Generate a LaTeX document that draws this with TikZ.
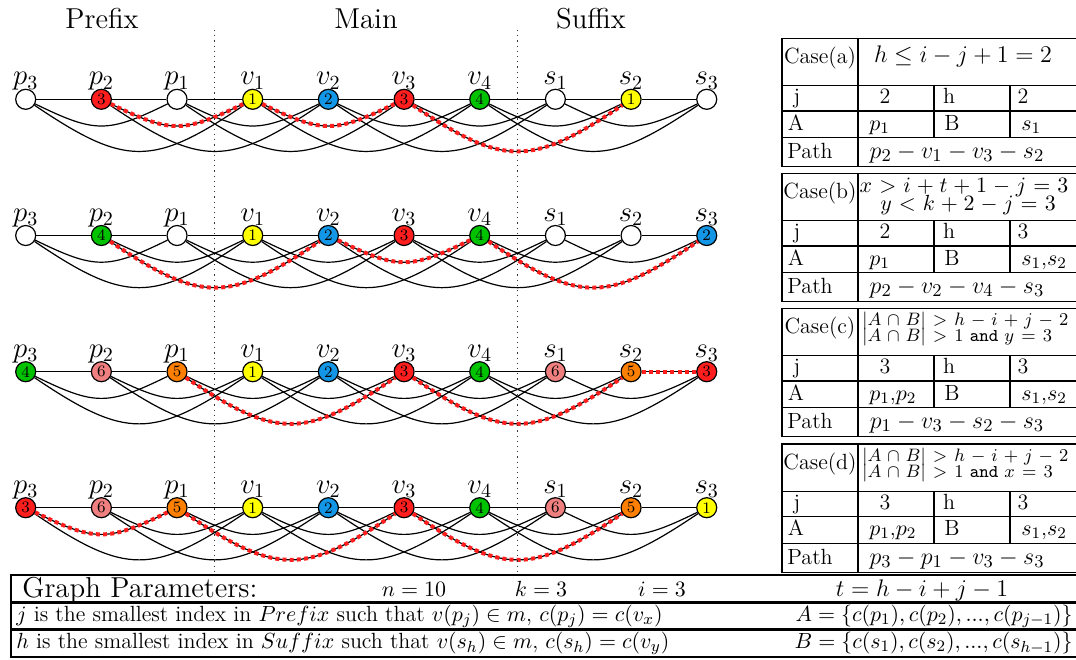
\documentclass[tikz,border=0pt]{standalone}
\usepackage{amsmath,amssymb}
\usetikzlibrary{backgrounds,calc}

\definecolor{vred}{RGB}{255,30,30}
\definecolor{vyel}{RGB}{255,255,0}
\definecolor{vblu}{RGB}{20,150,230}
\definecolor{vgrn}{RGB}{0,195,0}
\definecolor{vpnk}{RGB}{240,128,128}
\definecolor{vorg}{RGB}{255,128,0}

\newcommand\widemath{\medmuskip=5.8mu plus 2mu\thickmuskip=7mu plus 2mu}
\newcommand\midmath{\medmuskip=4.8mu plus 2mu\thickmuskip=5.8mu plus 2mu}

\tikzset{
  vtx/.style={circle, draw=black, line width=0.6pt, minimum size=10pt, inner sep=0pt, font=\footnotesize},
  vlab/.style={anchor=base, inner sep=0pt, font=\Large},
  title/.style={anchor=base, inner sep=0pt, font=\Large},
  edge/.style={draw=black, line width=0.6pt},
  hop2/.style={bend right=26, looseness=1.3},
  hop3/.style={bend right=34, looseness=1.35},
  walk/.style={draw=vred, line width=2pt, dash pattern=on 2pt off 1.6pt},
  sep/.style={dotted, line width=0.6pt, black!80},
  grid/.style={line width=0.6pt},
  tcell/.style={anchor=base, inner sep=0pt, font=\fontsize{11}{13}\selectfont},
  tcellw/.style={anchor=base west, inner sep=0pt, font=\fontsize{11}{13}\selectfont},
  tpath/.style={anchor=base, inner sep=0pt, font=\fontsize{12.5}{14}\selectfont},
  tcond/.style={anchor=base, inner sep=0pt, font=\fontsize{10.8}{13}\selectfont\midmath},
  tconda/.style={anchor=base, inner sep=0pt, font=\fontsize{11.9}{13}\selectfont},
  tcondw/.style={anchor=base west, inner sep=0pt, font=\fontsize{9}{11}\selectfont\widemath},
  btxt/.style={inner sep=0pt, font=\fontsize{11}{13}\selectfont},
}

% one row of the graph: nodes, their labels and the edges (i,i+1), (i,i+2), (i,i+3)
\newcommand\graphrow[3]{%
  \foreach \fc/\nm [count=\k from 0] in {#3} {
    \node[vtx, fill=\fc] (#1-\k) at ({25.7+75.67*\k}, #2) {\nm};
  }
  \foreach \tx [count=\k from 0] in {p_3,p_2,p_1,v_1,v_2,v_3,v_4,s_1,s_2,s_3} {
    \node[vlab] (#1-\k-lab) at ({25.7+75.67*\k}, {#2-14.5}) {$\tx$};
  }
  \begin{pgfonlayer}{background}
    \foreach \k in {0,...,8} {
      \pgfmathtruncatemacro\m{\k+1}
      \draw[edge] (#1-\k) -- (#1-\m);
    }
    \foreach \k in {0,...,7} {
      \pgfmathtruncatemacro\m{\k+2}
      \draw[edge] (#1-\k) to[hop2] (#1-\m);
    }
    \foreach \k in {0,...,6} {
      \pgfmathtruncatemacro\m{\k+3}
      \draw[edge] (#1-\k) to[hop3] (#1-\m);
    }
  \end{pgfonlayer}
}

% case table: #1 top, #2 name, #3 letter, #4 j, #5 h, #6 A, #7 B, #8 path
\newcommand\casetable[8]{%
  \draw[grid] (1077,#1) -- (782,#1) -- (782,{#1+128.4}) -- (1077,{#1+128.4});
  \draw[grid] (782,{#1+47.4}) -- (1077,{#1+47.4});
  \draw[grid] (782,{#1+72.7}) -- (1077,{#1+72.7});
  \draw[grid] (782,{#1+99.5}) -- (1077,{#1+99.5});
  \draw[grid] (858,#1) -- (858,{#1+128.4});
  \draw[grid] (934,{#1+47.4}) -- (934,{#1+99.5});
  \draw[grid] (1010,{#1+47.4}) -- (1010,{#1+99.5});
  \node[tcell] (#2-case) at (820,{#1+25}) {Case(#3)};
  \node[tcell] (#2-jk) at (797,{#1+65}) {j};
  \node[tcell] (#2-jv) at (885,{#1+65}) {#4};
  \node[tcell] (#2-hk) at (949,{#1+65}) {h};
  \node[tcell] (#2-hv) at (1023,{#1+65}) {#5};
  \node[tcell] (#2-ak) at (796,{#1+91.7}) {A};
  \node[tcellw] (#2-av) at (869,{#1+91.7}) {#6};
  \node[tcell] (#2-bk) at (952,{#1+91.7}) {B};
  \node[tcellw] (#2-bv) at (1021,{#1+91.7}) {#7};
  \node[tcell] (#2-pk) at (810,{#1+120}) {Path};
  \node[tpath] (#2-pv) at (957,{#1+120}) {#8};
}

\begin{document}
\begin{tikzpicture}[x=0.5pt, y=-0.5pt]
\useasboundingbox (0,0) rectangle (1076,659);

% section headings and the dotted separators
\node[title] (hdr-pre) at (102,28) {Prefix};
\node[title] (hdr-main) at (366,28) {Main};
\node[title] (hdr-suf) at (591,28) {Suffix};
\draw[sep] (214.8,30) -- (214.8,575);
\draw[sep] (517.5,30) -- (517.5,575);

% the four coloured graphs
\graphrow{r1}{99.3}{white/{},vred/3,white/{},vyel/1,vblu/2,vred/3,vgrn/4,white/{},vyel/1,white/{}}
\graphrow{r2}{235.5}{white/{},vgrn/4,white/{},vyel/1,vblu/2,vred/3,vgrn/4,white/{},white/{},vblu/2}
\graphrow{r3}{371.7}{vgrn/4,vpnk/6,vorg/5,vyel/1,vblu/2,vred/3,vgrn/4,vpnk/6,vorg/5,vred/3}
\graphrow{r4}{507.7}{vred/3,vpnk/6,vorg/5,vyel/1,vblu/2,vred/3,vgrn/4,vpnk/6,vorg/5,vyel/1}

% highlighted walks
\begin{pgfonlayer}{background}
  \draw[walk] (r1-1) to[hop2] (r1-3);
  \draw[walk] (r1-3) to[hop2] (r1-5);
  \draw[walk] (r1-5) to[hop3] (r1-8);
  \draw[walk] (r2-1) to[hop3] (r2-4);
  \draw[walk] (r2-4) to[hop2] (r2-6);
  \draw[walk] (r2-6) to[hop3] (r2-9);
  \draw[walk] (r3-2) to[hop3] (r3-5);
  \draw[walk] (r3-5) to[hop3] (r3-8);
  \draw[walk] (r3-8) -- (r3-9);
  \draw[walk] (r4-0) to[hop2] (r4-2);
  \draw[walk] (r4-2) to[hop3] (r4-5);
  \draw[walk] (r4-5) to[hop3] (r4-8);
\end{pgfonlayer}

% case tables
\casetable{38.3}{ta}{a}{2}{2}{$p_1$}{$s_1$}{$p_2-v_1-v_3-s_2$}
\node[tconda] (ta-cond) at (963,62) {$h\le i-j+1=2$};

\casetable{173.3}{tb}{b}{2}{3}{$p_1$}{$s_1$,$s_2$}{$p_2-v_2-v_4-s_3$}
\node[tcond] (tb-cond1) at (964,192.5) {$x>i+t+1-j=3$};
\node[tcond] (tb-cond2) at (968,210) {$y<k+2-j=3$};

\casetable{308.3}{tc}{c}{3}{3}{$p_1$,$p_2$}{$s_1$,$s_2$}{$p_1-v_3-s_2-s_3$}
\node[tcondw] (tc-cond1) at (862,325.8) {$|A\cap B|>h-i+j-2$};
\node[tcondw] (tc-cond2) at (862,341.5) {$|A\cap B|>1$ \texttt{and} $y=3$};

\casetable{444}{td}{d}{3}{3}{$p_1$,$p_2$}{$s_1$,$s_2$}{$p_3-p_1-v_3-s_3$}
\node[tcondw] (td-cond1) at (862,461.5) {$|A\cap B|>h-i+j-2$};
\node[tcondw] (td-cond2) at (862,477.2) {$|A\cap B|>1$ \texttt{and} $x=3$};

% parameter box
\draw[grid] (1077,575) -- (11,575) -- (11,602) -- (1077,602);
\draw[grid] (1077,603.5) -- (11,603.5) -- (11,629) -- (1077,629);
\draw[grid] (1077,630.5) -- (11,630.5) -- (11,657) -- (1077,657);
\node[anchor=base west, inner sep=0pt, font=\Large] (gp) at (22,597) {Graph Parameters:};
\node[btxt, anchor=base] (gp-n) at (414,596) {$n=10$};
\node[btxt, anchor=base] (gp-k) at (541,596) {$k=3$};
\node[btxt, anchor=base] (gp-i) at (662,596) {$i=3$};
\node[btxt, anchor=base, font=\fontsize{11.6}{13}\selectfont] (gp-t) at (922,596) {$t=h-i+j-1$};
\node[btxt, anchor=base west] (gp-j) at (16,621) {$j$ is the smallest index in $Prefix$ such that $v(p_j)\in m$, $c(p_j)=c(v_x)$};
\node[btxt, anchor=base east] (gp-a) at (1073,621) {$A=\{c(p_1),c(p_2),...,c(p_{j-1})\}$};
\node[btxt, anchor=base west] (gp-h) at (16,648.5) {$h$ is the smallest index in $Suffix$ such that $v(s_h)\in m$, $c(s_h)=c(v_y)$};
\node[btxt, anchor=base east] (gp-b) at (1073,648.5) {$B=\{c(s_1),c(s_2),...,c(s_{h-1})\}$};
\end{tikzpicture}
\end{document}
